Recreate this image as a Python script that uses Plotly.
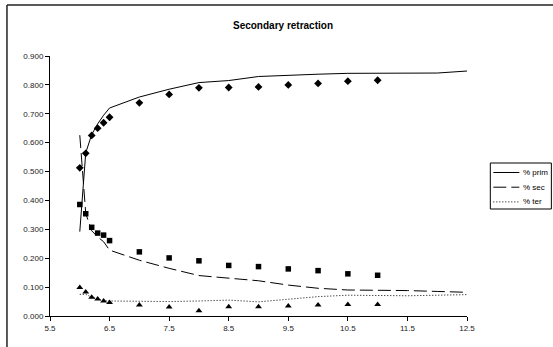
import plotly.graph_objects as go

# Measured data points
data_x = [6.0, 6.1, 6.2, 6.3, 6.4, 6.5, 7.0, 7.5, 8.0, 8.5, 9.0, 9.5, 10.0, 10.5, 11.0]
prim_pts = [0.513, 0.563, 0.625, 0.650, 0.669, 0.688, 0.738, 0.767, 0.790, 0.791, 0.793, 0.800, 0.805, 0.813, 0.816]
sec_pts = [0.386, 0.354, 0.307, 0.287, 0.280, 0.261, 0.222, 0.201, 0.191, 0.175, 0.171, 0.163, 0.157, 0.146, 0.141]
ter_pts = [0.099, 0.083, 0.065, 0.059, 0.052, 0.047, 0.038, 0.031, 0.018, 0.032, 0.032, 0.035, 0.038, 0.040, 0.040]

# Model curves
line_x = [6.0, 6.1, 6.2, 6.3, 6.4, 6.5, 7.0, 7.5, 8.0, 8.5, 9.0, 9.5, 10.0, 10.5, 11.0, 11.5, 12.0, 12.5]
prim_line = [0.292, 0.565, 0.628, 0.665, 0.695, 0.720, 0.758, 0.785, 0.808, 0.815, 0.829, 0.834, 0.837, 0.840, 0.840, 0.841, 0.841, 0.848]
sec_line = [0.626, 0.355, 0.295, 0.274, 0.257, 0.228, 0.193, 0.165, 0.140, 0.130, 0.122, 0.107, 0.096, 0.090, 0.090, 0.088, 0.085, 0.082]
ter_line = [0.075, 0.075, 0.065, 0.058, 0.053, 0.052, 0.050, 0.050, 0.052, 0.055, 0.049, 0.058, 0.067, 0.072, 0.070, 0.070, 0.072, 0.074]

series_names = ["% prim", "% sec", "% ter"]
x_ticks = [5.5, 6.5, 7.5, 8.5, 9.5, 10.5, 11.5, 12.5]
y_ticks = [0.0, 0.1, 0.2, 0.3, 0.4, 0.5, 0.6, 0.7, 0.8, 0.9]

FONT = "Liberation Sans, Arial, sans-serif"
W, H = 553, 347
L, R, T, B = 50, 86.3, 56, 31
PW, PH = W - L - R, H - T - B


def px2paper(px, py):
    return (px - L) / PW, (H - B - py) / PH


fig = go.Figure()
dashes = ["solid", "13px,5px", "1px,2px"]
for name, ys, d in zip(series_names, [prim_line, sec_line, ter_line], dashes):
    fig.add_trace(go.Scatter(x=line_x, y=ys, mode="lines", name=name,
                             line=dict(color="black", width=1, dash=d),
                             showlegend=False))

for ys, sym, sz in zip([prim_pts, sec_pts, ter_pts],
                       ["diamond", "square", "triangle-up"], [6, 5.5, 6]):
    fig.add_trace(go.Scatter(x=data_x, y=ys, mode="markers",
                             marker=dict(symbol=sym, size=sz, color="black"),
                             showlegend=False))

shapes = []
# outer frame (partial, as cropped)
x0, y0 = px2paper(7, 5)
x1, y1 = px2paper(553, 347)
shapes.append(dict(type="line", xref="paper", yref="paper", x0=x0, y0=y0, x1=x1, y1=y0,
                   line=dict(color="#222", width=1.5)))
shapes.append(dict(type="line", xref="paper", yref="paper", x0=x0, y0=y0, x1=x0, y1=y1,
                   line=dict(color="#222", width=1.5)))

# legend box
lx0, ly0 = px2paper(490, 163)
lx1, ly1 = px2paper(551, 209)
shapes.append(dict(type="rect", xref="paper", yref="paper", x0=lx0, y0=ly0, x1=lx1, y1=ly1,
                   line=dict(color="black", width=1), fillcolor="white"))
annotations = []
for i, (name, d) in enumerate(zip(series_names, dashes)):
    py = 172.5 + i * 14.7
    sx0, sy = px2paper(493, py)
    sx1, _ = px2paper(519, py)
    shapes.append(dict(type="line", xref="paper", yref="paper", x0=sx0, y0=sy, x1=sx1, y1=sy,
                       line=dict(color="black", width=1, dash=d)))
    tx, _ = px2paper(521, py)
    annotations.append(dict(xref="paper", yref="paper", x=tx, y=sy, text=name,
                            showarrow=False, xanchor="left", yanchor="middle",
                            font=dict(family=FONT, size=8, color="black")))

fig.update_layout(
    width=W, height=H,
    margin=dict(l=L, r=R, t=T, b=B),
    paper_bgcolor="white", plot_bgcolor="white",
    title=dict(text="<b>Secondary retraction</b>", x=283 / W, xref="container", xanchor="center",
               y=1 - 25 / H, yref="container", yanchor="middle",
               font=dict(family=FONT, size=10, color="black")),
    xaxis=dict(range=[5.5, 12.5], tickvals=x_ticks, ticktext=[f"{v:.1f}" for v in x_ticks],
               showline=True, linecolor="black", linewidth=1, ticks="outside", ticklen=4,
               tickcolor="black", showgrid=False, zeroline=False,
               tickfont=dict(family=FONT, size=8, color="#222")),
    yaxis=dict(range=[0, 0.9], tickvals=y_ticks, ticktext=[f"{v:.3f}" for v in y_ticks],
               showline=True, linecolor="black", linewidth=1, ticks="outside", ticklen=4,
               tickcolor="black", showgrid=False, zeroline=False,
               tickfont=dict(family=FONT, size=8, color="#222")),
    showlegend=False,
    shapes=shapes,
    annotations=annotations,
)

fig.write_html("out.html")
